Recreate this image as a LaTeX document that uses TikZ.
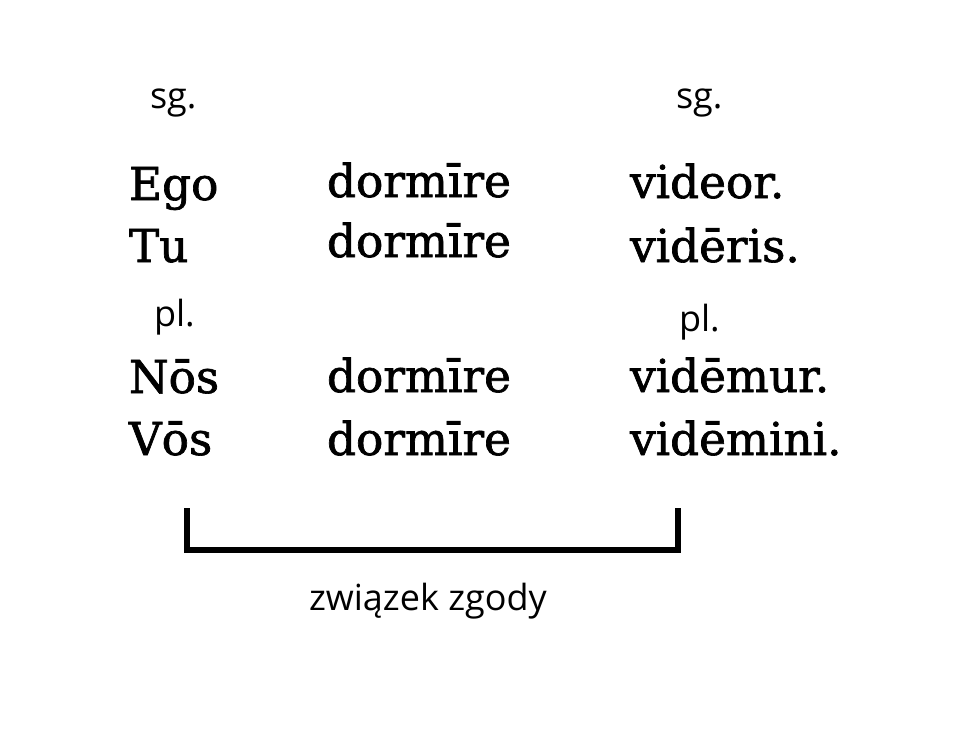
\documentclass[tikz,border=0pt]{standalone}
\usepackage{fontspec}
\setmainfont[FakeBold=1.5]{DejaVu Serif}
\newfontfamily\labelfont{Open Sans}
\begin{document}
\begin{tikzpicture}[x=0.75pt,y=-0.75pt,
  big/.style={anchor=base west,inner sep=0pt,outer sep=0pt,font=\fontsize{34}{40}\selectfont},
  small/.style={anchor=base west,inner sep=0pt,outer sep=0pt,font=\labelfont\fontsize{27}{32}\selectfont},
  bracketline/.style={line width=4.5pt,line cap=butt,line join=miter}]
\useasboundingbox (0,0) rectangle (960,733);
% number labels
\node[small] (sg1) at (150,108) {sg.};
\node[small] (sg2) at (676,108) {sg.};
\node[small] (pl1) at (154,326) {pl.};
\node[small] (pl2) at (679,331) {pl.};
% pronouns
\node[big] (ego) at (129,200) {Ego};
\node[big] (tu)  at (129,262) {Tu};
\node[big] (nos) at (129,393) {Nōs};
\node[big] (vos) at (129,455) {Vōs};
% infinitives
\node[big] (d1) at (327,197) {dormīre};
\node[big] (d2) at (327,257) {dormīre};
\node[big] (d3) at (327,392) {dormīre};
\node[big] (d4) at (327,455) {dormīre};
% verbs
\node[big] (v1) at (630,198) {videor.};
\node[big] (v2) at (630,262) {vidēris.};
\node[big] (v3) at (630,392) {vidēmur.};
\node[big] (v4) at (630,455) {vidēmini.};
% bracket
\coordinate (bl) at (187,508);
\coordinate (br) at (678,508);
\draw[bracketline] (bl) -- (187,549.5) -- (678,549.5) -- (br);
\node[small] (agr) at (309,610) {związek zgody};
\end{tikzpicture}
\end{document}
